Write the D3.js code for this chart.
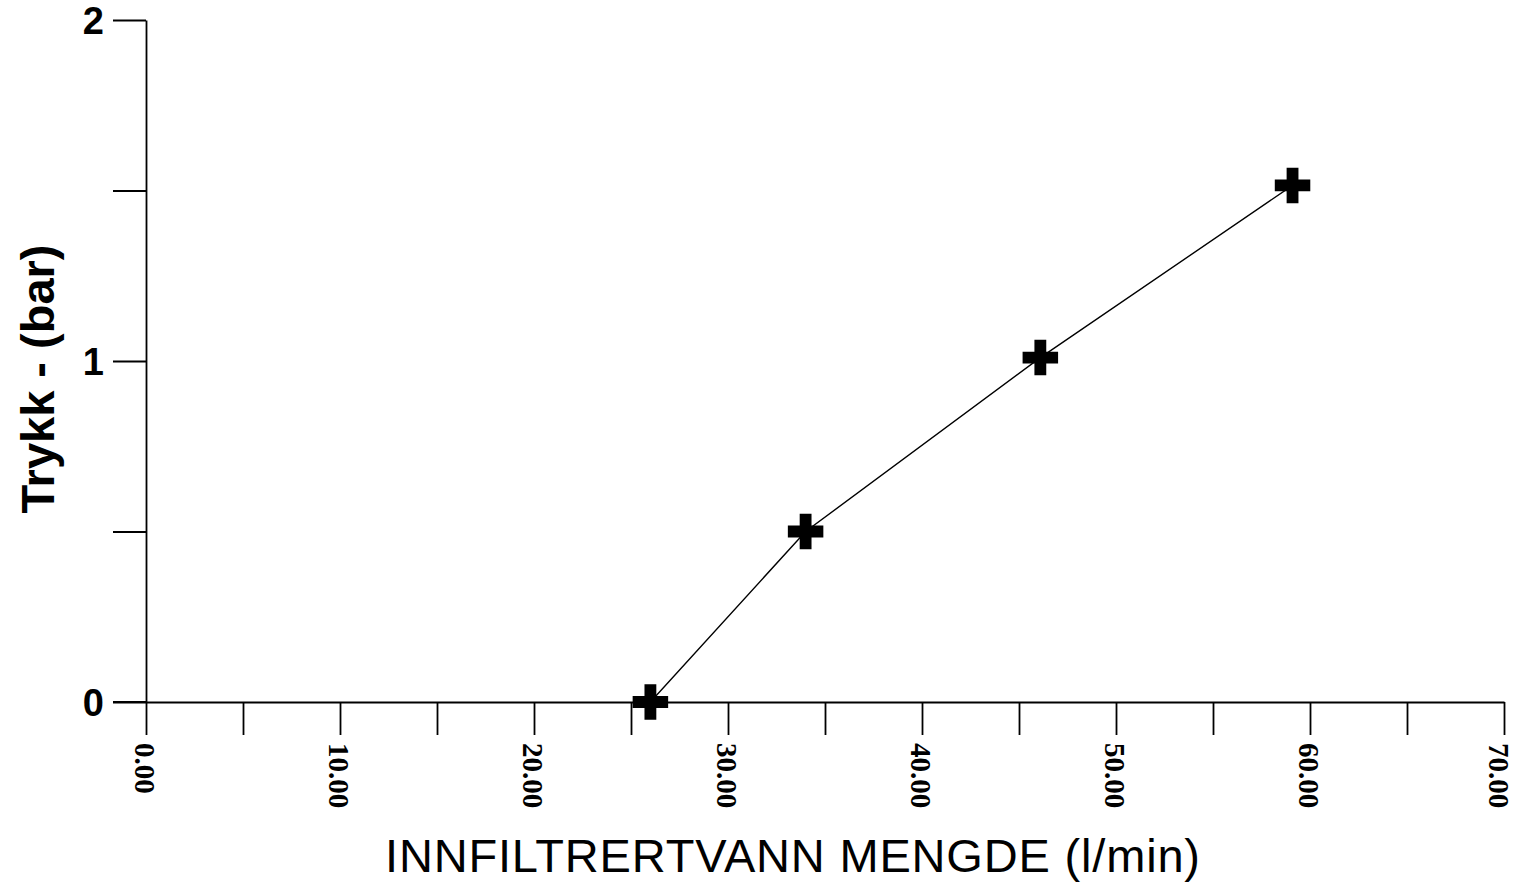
<!DOCTYPE html>
<html lang="no">
<head>
  <meta charset="UTF-8">
  <title>Trykk mot innfiltrert vannmengde</title>
  <script src="https://d3js.org/d3.v7.min.js"></script>
  <style>
    body { margin: 0; background: #fff; }
    .axis path, .axis line { stroke: #000; stroke-width: 1.8px; }
    .y-axis text { font-family: "Liberation Sans", Arial, sans-serif; font-weight: bold; font-size: 38px; }
    .x-axis text { font-family: "Liberation Serif", "Times New Roman", serif; font-weight: bold; font-size: 29px; }
    .title { font-family: "Liberation Sans", Arial, sans-serif; fill: #000; }
  </style>
</head>
<body>
<svg width="1515" height="886"></svg>
<script>
  // data
  const flow = [26, 34, 46.1, 59.1];          // l/min
  const pressure = [0, 0.5, 1.01, 1.515];     // bar
  const xTicks = [0, 5, 10, 15, 20, 25, 30, 35, 40, 45, 50, 55, 60, 65, 70];
  const yTicks = [0, 0.5, 1, 1.5, 2];

  const svg = d3.select("svg");
  const x = d3.scaleLinear().domain([0, 70]).range([146, 1504]);
  const y = d3.scaleLinear().domain([0, 2]).range([702, 20]);

  // y axis, ticks pointing left
  const yAxis = svg.append("g")
    .attr("class", "axis y-axis")
    .attr("transform", `translate(${x(0)},0)`)
    .call(d3.axisLeft(y).tickValues(yTicks).tickSize(33).tickSizeOuter(0)
      .tickFormat(d => Number.isInteger(d) ? d : ""));
  yAxis.selectAll("text").attr("x", -42).attr("dy", "0.36em");

  // x axis, ticks pointing down, labels rotated
  const xAxis = svg.append("g")
    .attr("class", "axis x-axis")
    .attr("transform", `translate(0,${y(0)})`)
    .call(d3.axisBottom(x).tickValues(xTicks).tickSize(33).tickSizeOuter(0)
      .tickFormat(d => d % 10 === 0 ? d3.format(".2f")(d) : ""));
  xAxis.selectAll("text")
    .attr("transform", "rotate(90)")
    .attr("x", 41).attr("y", 0)
    // last label nudged left so it stays inside the page
    .attr("dy", d => d === 70 ? "0.55em" : "0.38em")
    .style("text-anchor", "start");
  // extend the baseline to the left under the zero tick
  svg.append("line")
    .attr("x1", 113).attr("x2", x(0))
    .attr("y1", y(0)).attr("y2", y(0))
    .attr("stroke", "#000").attr("stroke-width", 1.8);

  // series line
  const pts = flow.map((f, i) => [f, pressure[i]]);
  svg.append("path")
    .datum(pts)
    .attr("fill", "none")
    .attr("stroke", "#000")
    .attr("stroke-width", 1.4)
    .attr("d", d3.line().x(d => x(d[0])).y(d => y(d[1])));

  // plus markers
  svg.selectAll(".marker")
    .data(pts)
    .enter().append("path")
    .attr("class", "marker")
    .attr("transform", d => `translate(${x(d[0])},${y(d[1])})`)
    .attr("d", d3.symbol(d3.symbolCross, 700))
    .attr("fill", "#000");

  // axis titles
  svg.append("text")
    .attr("class", "title")
    .attr("transform", "translate(54,379) rotate(-90)")
    .attr("text-anchor", "middle")
    .style("font-size", "47px")
    .style("font-weight", "bold")
    .text("Trykk - (bar)");

  svg.append("text")
    .attr("class", "title")
    .attr("x", 385).attr("y", 872)
    .attr("textLength", 815)
    .attr("lengthAdjust", "spacing")
    .style("font-size", "47px")
    .text("INNFILTRERTVANN MENGDE (l/min)");
</script>
</body>
</html>
